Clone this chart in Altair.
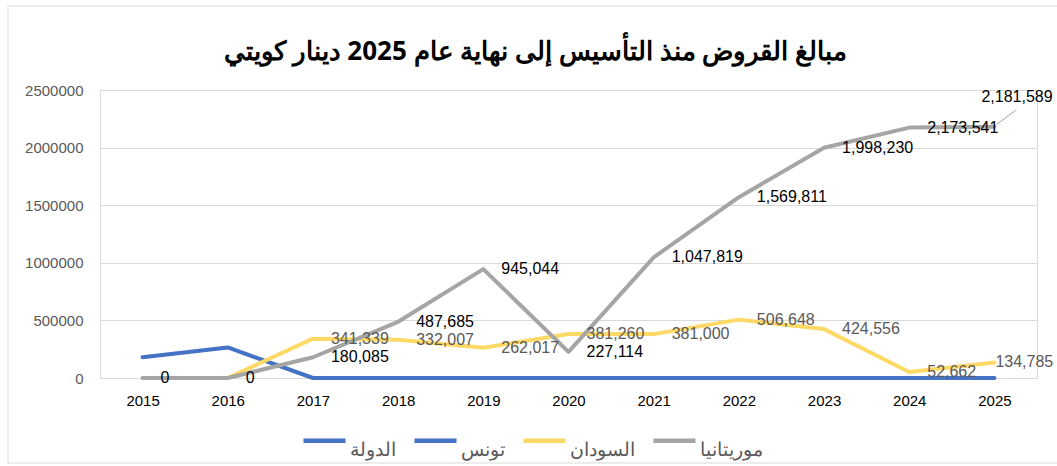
import altair as alt
import pandas as pd

years = ["2015", "2016", "2017", "2018", "2019", "2020", "2021", "2022", "2023", "2024", "2025"]
legend_names = ["الدولة", "تونس", "السودان", "موريتانيا"]
tunisia = [180000, 265000, 0, 0, 0, 0, 0, 0, 0, 0, 0]
sudan = [None, 0, 341339, 332007, 262017, 381260, 381000, 506648, 424556, 52662, 134785]
mauritania = [0, 0, 180085, 487685, 945044, 227114, 1047819, 1569811, 1998230, 2173541, 2181589]
colors = ["#4472C4", "#4472C4", "#FFD966", "#A5A5A5"]
y_ticks = [0, 500000, 1000000, 1500000, 2000000, 2500000]
title_text = "مبالغ القروض منذ التأسيس إلى نهاية عام 2025 دينار كويتي"

rows = []
for name, vals in [("تونس", tunisia), ("السودان", sudan), ("موريتانيا", mauritania)]:
    for yr, v in zip(years, vals):
        if v is not None:
            rows.append({"year": yr, "country": name, "value": v})
df = pd.DataFrame(rows)

NUM_FONT = "Liberation Sans"
AR_FONT = "Noto Sans"

x_enc = alt.X("year:O", sort=years,
              scale=alt.Scale(type="point", padding=0.5),
              axis=alt.Axis(title=None, labelAngle=0, labelFontSize=15, labelColor="#000000",
                            labelFont=NUM_FONT, domain=False, ticks=False, labelPadding=15,
                            grid=False))
y_enc = alt.Y("value:Q",
              scale=alt.Scale(domain=[0, 2500000], nice=False),
              axis=alt.Axis(title=None, values=y_ticks, format="d", labelFontSize=15,
                            labelColor="#595959", labelFont=NUM_FONT, domain=False,
                            ticks=False, labelPadding=17, gridColor="#D9D9D9", gridWidth=1))

base = alt.Chart(df)

frame = alt.Chart(pd.DataFrame({"k": [0]})).mark_rect(
    filled=False, stroke="#D9D9D9", strokeWidth=1
).encode(x=alt.value(-92), x2=alt.value(962), y=alt.value(-84), y2=alt.value(373))

lines = base.mark_line(strokeWidth=4, strokeCap="round", strokeJoin="round").encode(
    x=x_enc, y=y_enc,
    color=alt.Color("country:N",
                    scale=alt.Scale(domain=legend_names, range=colors),
                    legend=alt.Legend(orient="none", legendX=201, legendY=327,
                                      direction="horizontal", title=None,
                                      symbolType="stroke", symbolSize=1764,
                                      symbolStrokeWidth=4.5, labelFontSize=19,
                                      labelColor="#595959", labelFont=AR_FONT,
                                      labelOffset=2, columnPadding=9,
                                      labelBaseline="top", padding=0)),
    order=alt.Order("country:N"),
)

is_last = "datum.year == '2025'"
maur_labels = base.transform_filter(
    f"datum.country == 'موريتانيا' && !({is_last})"
).mark_text(align="left", baseline="middle", dx=18, fontSize=16, font=NUM_FONT,
            color="#000000").encode(x=x_enc, y=y_enc, text=alt.Text("value:Q", format=","))

maur_last = base.transform_filter(
    f"datum.country == 'موريتانيا' && {is_last}"
).mark_text(align="left", baseline="middle", dx=-13, dy=-30, fontSize=16, font=NUM_FONT,
            color="#000000").encode(x=x_enc, y=y_enc, text=alt.Text("value:Q", format=","))

leader = base.transform_filter(
    f"datum.country == 'موريتانيا' && {is_last}"
).mark_rule(color="#A5A5A5", strokeWidth=1, xOffset=2, yOffset=-2,
            x2Offset=22, y2Offset=-17).encode(
    x=x_enc, y=y_enc, x2="year:O", y2="value:Q")

sudan_labels = base.transform_filter(
    f"datum.country == 'السودان' && datum.value > 0 && !({is_last})"
).mark_text(align="left", baseline="middle", dx=18, fontSize=16, font=NUM_FONT,
            color="#595959").encode(x=x_enc, y=y_enc, text=alt.Text("value:Q", format=","))

sudan_last = base.transform_filter(
    f"datum.country == 'السودان' && {is_last}"
).mark_text(align="left", baseline="middle", dx=1, fontSize=16, font=NUM_FONT,
            color="#595959").encode(x=x_enc, y=y_enc, text=alt.Text("value:Q", format=","))

chart = alt.layer(frame, lines, leader, sudan_labels, sudan_last, maur_labels, maur_last).properties(
    width=937, height=288,
    padding={"left": 100, "top": 90, "right": 20, "bottom": 88},
    autosize=alt.AutoSizeParams(type="none"),
    title=alt.Title(title_text, fontSize=26, fontWeight="bold", font=AR_FONT,
                    color="#000000", anchor="middle", frame="group", dx=-33,
                    offset=-85, baseline="bottom"),
).configure_view(stroke=None).configure(background="#FFFFFF")

chart.save("out.html", embed_options={"renderer": "svg", "actions": False})
